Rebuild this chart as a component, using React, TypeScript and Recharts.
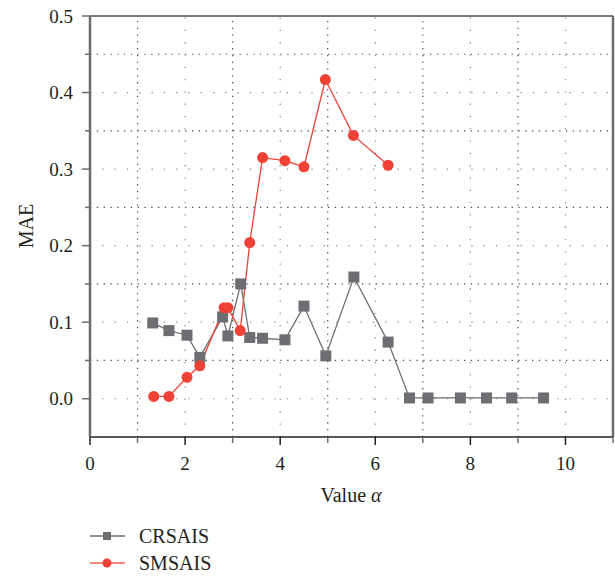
import { LineChart, Line, XAxis, YAxis, ReferenceLine, Legend } from "recharts";

const CRSAIS_X = [1.32, 1.66, 2.04, 2.31, 2.79, 2.9, 3.17, 3.36, 3.63, 4.1, 4.5, 4.96, 5.55, 6.27, 6.72, 7.11, 7.79, 8.34, 8.87, 9.54];
const CRSAIS_Y = [0.099, 0.089, 0.083, 0.054, 0.107, 0.082, 0.15, 0.08, 0.079, 0.077, 0.121, 0.056, 0.159, 0.074, 0.001, 0.001, 0.001, 0.001, 0.001, 0.001];
const SMSAIS_X = [1.34, 1.66, 2.04, 2.31, 2.82, 2.9, 3.16, 3.36, 3.63, 4.1, 4.5, 4.95, 5.54, 6.27];
const SMSAIS_Y = [0.003, 0.003, 0.028, 0.043, 0.119, 0.119, 0.089, 0.204, 0.315, 0.311, 0.303, 0.417, 0.344, 0.305];

const X_TICKS = [0, 1, 2, 3, 4, 5, 6, 7, 8, 9, 10, 11];
const Y_TICKS = [-0.05, 0, 0.05, 0.1, 0.15, 0.2, 0.25, 0.3, 0.35, 0.4, 0.45, 0.5];
const X_MAJOR_GRID = [2, 4, 6, 8, 10];
const X_MINOR_GRID = [1, 3, 5, 7, 9];
const Y_MAJOR_GRID = [0, 0.1, 0.2, 0.3, 0.4];
const Y_MINOR_GRID = [0.05, 0.15, 0.25, 0.35, 0.45];

const crsais = CRSAIS_X.map((x, i) => ({ x, y: CRSAIS_Y[i] }));
const smsais = SMSAIS_X.map((x, i) => ({ x, y: SMSAIS_Y[i] }));

const GRAY = "#6d6e71";
const RED = "#ef4136";
const INK = "#231f20";
const FONT = "Liberation Serif, DejaVu Serif, serif";
const txt = (size: number) => ({ fontFamily: FONT, fontSize: size, fill: INK });

const isMajorY = (v: number) => Math.abs(Math.round(v * 10) - v * 10) < 1e-6;

function YTick(props: any) {
  const { x, y, payload } = props;
  const v = payload.value as number;
  if (v < -0.01) return null;
  const major = isMajorY(v);
  return (
    <g>
      <line x1={x - (major ? 8 : 5)} x2={x} y1={y} y2={y} stroke={GRAY} strokeWidth={1.5} />
      {major && (
        <text x={x - 17} y={y} dy="0.35em" textAnchor="end" style={txt(19)}>
          {v.toFixed(1)}
        </text>
      )}
    </g>
  );
}

function XTick(props: any) {
  const { x, y, payload } = props;
  const v = payload.value as number;
  const major = v % 2 === 0;
  return (
    <g>
      <line x1={x} x2={x} y1={y} y2={y + (major ? 8 : 6)} stroke={major ? INK : GRAY} strokeWidth={1.5} />
      {major && v <= 10 && (
        <text x={x} y={y + 26} dy="0.35em" textAnchor="middle" style={txt(19)}>
          {v}
        </text>
      )}
    </g>
  );
}

function SquareDot(props: any) {
  const { cx, cy, index } = props;
  if (cx == null || cy == null) return <g key={index} />;
  return <rect key={index} x={cx - 5.5} y={cy - 5.5} width={11} height={11} fill={GRAY} />;
}

function LegendBox() {
  return (
    <svg width={220} height={60} style={{ display: "block", overflow: "visible" }}>
      <line x1={10} x2={45} y1={16} y2={16} stroke={GRAY} strokeWidth={1.5} />
      <rect x={23} y={12} width={8} height={8} fill={GRAY} />
      <text x={59} y={16} dy="0.35em" style={txt(20)}>CRSAIS</text>
      <line x1={10} x2={45} y1={43} y2={43} stroke={RED} strokeWidth={1.5} strokeOpacity={0.85} />
      <circle cx={27} cy={43} r={4.5} fill={RED} />
      <text x={59} y={43} dy="0.35em" style={txt(20)}>SMSAIS</text>
    </svg>
  );
}

export default function App() {
  return (
    <div style={{ width: 615, height: 576, position: "relative", fontFamily: FONT }}>
      <style>{`body{margin:0}`}</style>
      <LineChart width={615} height={576} margin={{ top: 16, right: 2, left: 0, bottom: 19 }}>
        <XAxis
          type="number"
          dataKey="x"
          domain={[0, 11]}
          ticks={X_TICKS}
          interval={0}
          allowDataOverflow
          height={60}
          tickSize={0}
          tickMargin={0}
          tick={<XTick />}
          axisLine={{ stroke: INK, strokeWidth: 1.5 }}
          label={() => (
            <text x={351} y={495} dy="0.35em" textAnchor="middle" style={txt(20)}>
              Value <tspan fontStyle="italic">α</tspan>
            </text>
          )}
        />
        <YAxis
          type="number"
          domain={[-0.05, 0.5]}
          ticks={Y_TICKS}
          interval={0}
          allowDataOverflow
          width={90}
          tickSize={0}
          tickMargin={0}
          tick={<YTick />}
          axisLine={{ stroke: GRAY, strokeWidth: 2.5 }}
          label={() => (
            <text x={26} y={226} dy="0.35em" textAnchor="middle" style={txt(20)} transform="rotate(-90 26 226)">
              MAE
            </text>
          )}
        />
        {Y_MINOR_GRID.map((v) => (
          <ReferenceLine key={"ym" + v} y={v} stroke="#4d4d4f" strokeWidth={1.2} strokeDasharray="1.3 5.5" />
        ))}
        {Y_MAJOR_GRID.map((v) => (
          <ReferenceLine key={"yM" + v} y={v} stroke="#8a8a8c" strokeWidth={1.2} strokeDasharray="1.3 11" />
        ))}
        {X_MINOR_GRID.map((v) => (
          <ReferenceLine key={"xm" + v} x={v} stroke="#4d4d4f" strokeWidth={1.2} strokeDasharray="1.3 5.5" />
        ))}
        {X_MAJOR_GRID.map((v) => (
          <ReferenceLine key={"xM" + v} x={v} stroke="#8a8a8c" strokeWidth={1.2} strokeDasharray="1.3 11" />
        ))}
        <ReferenceLine y={0.5} stroke="#4d4d4f" strokeWidth={1.5} />
        <ReferenceLine x={11} stroke={GRAY} strokeWidth={2.5} />
        <Line
          data={crsais}
          dataKey="y"
          name="CRSAIS"
          stroke={GRAY}
          strokeWidth={1.3}
          dot={<SquareDot />}
          activeDot={false}
          isAnimationActive={false}
        />
        <Line
          data={smsais}
          dataKey="y"
          name="SMSAIS"
          stroke={RED}
          strokeWidth={1.3}
          dot={{ r: 5.5, fill: RED, stroke: RED, strokeWidth: 0 }}
          activeDot={false}
          isAnimationActive={false}
        />
        <Legend
          content={<LegendBox />}
          wrapperStyle={{ top: 520, left: 80, bottom: "auto", width: 220, height: 60 }}
        />
      </LineChart>
    </div>
  );
}
